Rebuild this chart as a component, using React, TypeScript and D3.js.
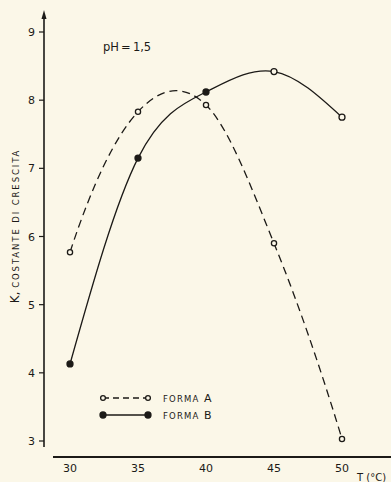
import * as d3 from "d3";
import { useEffect, useRef } from "react";

const temps = [30, 35, 40, 45, 50];
const formaA = [5.77, 7.83, 7.93, 5.9, 3.03];
const formaB = [4.13, 7.15, 8.12, 8.42, 7.75];
const yTicks = [3, 4, 5, 6, 7, 8, 9];
const xTicks = [30, 35, 40, 45, 50];

const W = 391;
const H = 482;
const ink = "#1c1a17";
const paper = "#fbf7e8";
const font = "DejaVu Sans, sans-serif";

// hermite curve: centred-difference tangents inside, steep one-sided tangents at the ends
function curveFrench(context: any) {
  let xs: number[] = [];
  let ys: number[] = [];
  return {
    areaStart() {},
    areaEnd() {},
    lineStart() {
      xs = [];
      ys = [];
    },
    point(x: number, y: number) {
      xs.push(+x);
      ys.push(+y);
    },
    lineEnd() {
      const n = xs.length;
      if (n < 2) return;
      const m: number[] = new Array(n).fill(0);
      for (let i = 1; i < n - 1; i++) {
        m[i] = (ys[i + 1] - ys[i - 1]) / (xs[i + 1] - xs[i - 1]);
      }
      const s0 = (ys[1] - ys[0]) / (xs[1] - xs[0]);
      const sn = (ys[n - 1] - ys[n - 2]) / (xs[n - 1] - xs[n - 2]);
      m[0] = n > 2 ? 2 * s0 - m[1] : s0;
      m[n - 1] = n > 2 ? 2 * sn - m[n - 2] : sn;
      context.moveTo(xs[0], ys[0]);
      for (let i = 0; i < n - 1; i++) {
        const h = (xs[i + 1] - xs[i]) / 3;
        context.bezierCurveTo(
          xs[i] + h, ys[i] + m[i] * h,
          xs[i + 1] - h, ys[i + 1] - m[i + 1] * h,
          xs[i + 1], ys[i + 1]
        );
      }
    },
  };
}

export default function App() {
  const ref = useRef<SVGSVGElement | null>(null);

  useEffect(() => {
    if (!ref.current) return;
    const svg = d3.select(ref.current);
    svg.selectAll("*").remove();

    svg.append("rect").attr("width", W).attr("height", H).attr("fill", paper);

    const x = d3.scaleLinear().domain([30, 50]).range([70, 342]);
    const y = d3.scaleLinear().domain([3, 9]).range([441, 32]);

    // y axis with arrow
    svg.append("line")
      .attr("x1", 44).attr("x2", 44).attr("y1", 447).attr("y2", 16)
      .attr("stroke", ink).attr("stroke-width", 1.6);
    svg.append("path")
      .attr("d", "M44,10 L41.5,19 L46.5,19 Z")
      .attr("fill", ink);

    svg.selectAll("line.yt").data(yTicks).enter().append("line")
      .attr("class", "yt")
      .attr("x1", 39).attr("x2", 44)
      .attr("y1", (d) => y(d)).attr("y2", (d) => y(d))
      .attr("stroke", ink).attr("stroke-width", 1.2);
    svg.selectAll("text.yl").data(yTicks).enter().append("text")
      .attr("class", "yl")
      .attr("x", 35).attr("y", (d) => y(d) + 4)
      .attr("text-anchor", "end")
      .style("font-family", font).style("font-size", "11px").attr("fill", ink)
      .text((d) => d);

    // x axis
    svg.append("line")
      .attr("x1", 53).attr("x2", 391).attr("y1", 457).attr("y2", 457)
      .attr("stroke", ink).attr("stroke-width", 2.2);
    svg.selectAll("text.xl").data(xTicks).enter().append("text")
      .attr("class", "xl")
      .attr("x", (d) => x(d)).attr("y", 472)
      .attr("text-anchor", "middle")
      .style("font-family", font).style("font-size", "11px").attr("fill", ink)
      .text((d) => d);
    svg.append("text")
      .attr("x", 357).attr("y", 481)
      .style("font-family", font).style("font-size", "10px").attr("fill", ink)
      .text("T (°C)");

    // y label
    const yl = svg.append("text")
      .attr("transform", "translate(19,226) rotate(-90)")
      .attr("text-anchor", "middle")
      .style("font-family", font).attr("fill", ink);
    yl.append("tspan").style("font-size", "12px").text("K, ");
    yl.append("tspan").style("font-size", "8.5px").attr("letter-spacing", "1.9").text("COSTANTE DI CRESCITA");

    svg.append("text")
      .attr("x", 103).attr("y", 51)
      .style("font-family", font).style("font-size", "11.5px")
      .attr("word-spacing", "-1.5").attr("fill", ink)
      .text("pH = 1,5");

    const lineA = d3.line<number>()
      .x((_, i) => x(temps[i]))
      .y((d) => y(d))
      .curve(curveFrench as any);
    const lineB = d3.line<number>()
      .x((_, i) => x(temps[i]))
      .y((d) => y(d))
      .curve(d3.curveNatural);

    svg.append("path").datum(formaA).attr("d", lineA)
      .attr("fill", "none").attr("stroke", ink).attr("stroke-width", 1.3)
      .attr("stroke-dasharray", "8,5");
    svg.append("path").datum(formaB).attr("d", lineB)
      .attr("fill", "none").attr("stroke", ink).attr("stroke-width", 1.3);

    svg.selectAll("circle.a").data(formaA).enter().append("circle")
      .attr("class", "a")
      .attr("cx", (_, i) => x(temps[i])).attr("cy", (d) => y(d)).attr("r", 2.6)
      .attr("fill", paper).attr("stroke", ink).attr("stroke-width", 1.3);
    svg.selectAll("circle.b").data(formaB).enter().append("circle")
      .attr("class", "b")
      .attr("cx", (_, i) => x(temps[i])).attr("cy", (d) => y(d)).attr("r", 3)
      .attr("fill", (_, i) => (i >= 3 ? paper : ink))
      .attr("stroke", ink).attr("stroke-width", 1.3);

    // legend
    const leg = [
      { label: "A", dashed: true, filled: false, yy: 398 },
      { label: "B", dashed: false, filled: true, yy: 415 },
    ];
    leg.forEach((l) => {
      svg.append("line")
        .attr("x1", 103).attr("x2", 148).attr("y1", l.yy).attr("y2", l.yy)
        .attr("stroke", ink).attr("stroke-width", 1.3)
        .attr("stroke-dasharray", l.dashed ? "6,4" : null);
      [103, 148].forEach((cx) =>
        svg.append("circle").attr("cx", cx).attr("cy", l.yy).attr("r", l.filled ? 3 : 2.4)
          .attr("fill", l.filled ? ink : paper).attr("stroke", ink).attr("stroke-width", 1.3)
      );
      svg.append("text").attr("x", 163).attr("y", l.yy + 3.5)
        .style("font-family", font).style("font-size", "8.5px").attr("letter-spacing", "1.2")
        .attr("fill", ink).text("FORMA");
      svg.append("text").attr("x", 204).attr("y", l.yy + 4)
        .style("font-family", font).style("font-size", "11px").attr("fill", ink).text(l.label);
    });
  }, []);

  return (
    <svg
      ref={ref}
      width={W}
      height={H}
      style={{ position: "absolute", left: 0, top: 0 }}
    />
  );
}
